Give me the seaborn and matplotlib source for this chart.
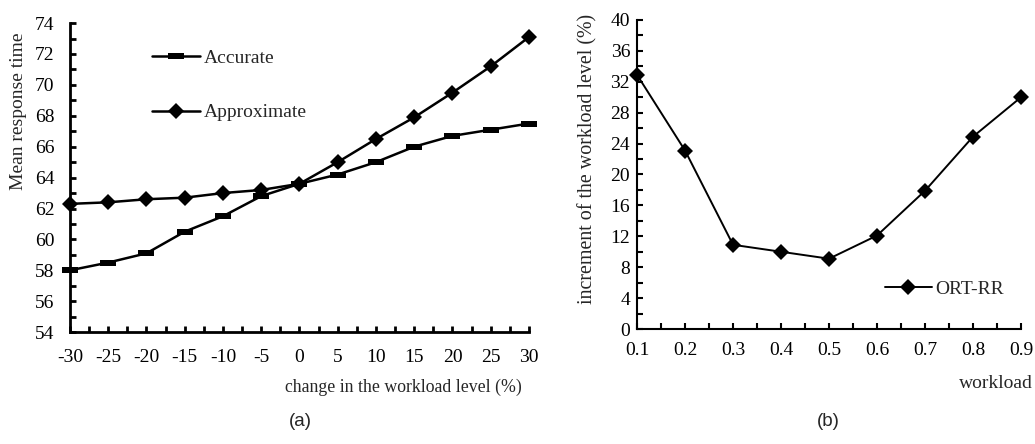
import numpy as np
import pandas as pd
import matplotlib
matplotlib.use("Agg")
import matplotlib.pyplot as plt
from matplotlib.path import Path
from matplotlib.ticker import MultipleLocator
import seaborn as sns

# ---- data ----
change = [-30, -25, -20, -15, -10, -5, 0, 5, 10, 15, 20, 25, 30]
accurate = [58.0, 58.5, 59.1, 60.5, 61.5, 62.8, 63.6, 64.2, 65.0, 66.0, 66.7, 67.1, 67.5]
approximate = [62.3, 62.4, 62.6, 62.7, 63.0, 63.2, 63.6, 65.0, 66.5, 67.9, 69.5, 71.2, 73.1]

workload = [0.1, 0.2, 0.3, 0.4, 0.5, 0.6, 0.7, 0.8, 0.9]
ort_rr = [32.9, 23.1, 10.9, 10.0, 9.1, 12.1, 17.9, 24.9, 30.0]

sns.set_style("ticks")
plt.rcParams['font.family'] = ['Liberation Serif', 'DejaVu Serif']
plt.rcParams['axes.unicode_minus'] = False

fig = plt.figure(figsize=(10.35, 4.44), dpi=100)
ax1 = fig.add_axes([0.0676, 0.252, 0.4435, 0.696])
ax2 = fig.add_axes([0.6155, 0.259, 0.371, 0.696])

rect = Path([(-1, -0.35), (1, -0.35), (1, 0.35), (-1, 0.35), (-1, -0.35)],
            [Path.MOVETO, Path.LINETO, Path.LINETO, Path.LINETO, Path.CLOSEPOLY])

df1 = pd.DataFrame({"change": change, "Accurate": accurate, "Approximate": approximate})
sns.lineplot(data=df1, x="change", y="Accurate", ax=ax1, color="black", lw=1.8,
             marker=rect, markersize=11, markeredgewidth=0, label="Accurate", clip_on=False)
sns.lineplot(data=df1, x="change", y="Approximate", ax=ax1, color="black", lw=1.8,
             marker="D", markersize=8.5, markeredgewidth=0, label="Approximate", clip_on=False)

ax1.set_xlim(-30, 30)
ax1.set_ylim(54, 74)
ax1.xaxis.set_major_locator(MultipleLocator(5))
ax1.xaxis.set_minor_locator(MultipleLocator(2.5))
ax1.yaxis.set_major_locator(MultipleLocator(2))
ax1.yaxis.set_minor_locator(MultipleLocator(1))
ax1.set_xlabel("")
ax1.set_ylabel("Mean response time", fontsize=14)
ax1.yaxis.set_label_coords(-0.093, 0.715)
ax1.text(0.985, -0.15, "change in the workload level (%)", transform=ax1.transAxes,
         ha="right", va="top", fontsize=12.8)
ax1.legend(loc="upper left", bbox_to_anchor=(0.14, 0.972), frameon=False,
           fontsize=14, handlelength=2.5, labelspacing=1.9, handletextpad=0.2)

df2 = pd.DataFrame({"workload": workload, "ORT-RR": ort_rr})
sns.lineplot(data=df2, x="workload", y="ORT-RR", ax=ax2, color="black", lw=1.4,
             marker="D", markersize=8, markeredgewidth=0, label="ORT-RR", clip_on=False)
ax2.set_xlim(0.1, 0.9)
ax2.set_ylim(0, 40)
ax2.xaxis.set_minor_locator(MultipleLocator(0.05))
ax2.yaxis.set_major_locator(MultipleLocator(4))
ax2.yaxis.set_minor_locator(MultipleLocator(2))
ax2.set_xticks(workload)
ax2.set_xticklabels([f"{w:.1f}" for w in workload])
ax2.set_xlabel("")
ax2.set_ylabel("increment of the workload level (%)", fontsize=14.4)
ax2.yaxis.set_label_coords(-0.104, 0.55)
ax2.text(1.03, -0.15, "workload", transform=ax2.transAxes, ha="right", va="top", fontsize=14)
ax2.legend(loc="center left", bbox_to_anchor=(0.6, 0.13), frameon=False,
           fontsize=14, handlelength=2.4, handletextpad=0.2)

for ax, lw, xpad, ypad in ((ax1, 2.0, 12, 11), (ax2, 1.5, 9, 5)):
    sns.despine(ax=ax)
    for s in ("left", "bottom"):
        ax.spines[s].set_linewidth(lw)
        ax.spines[s].set_color("black")
    ax.tick_params(which="both", direction="in", length=4.5, width=lw, colors="black",
                   labelsize=14)
    ax.tick_params(axis="x", which="both", pad=xpad)
    ax.tick_params(axis="y", which="both", pad=ypad)

fig.text(0.29, 0.05, "(a)", ha="center", va="center", fontsize=13.5, family="Liberation Sans")
fig.text(0.80, 0.05, "(b)", ha="center", va="center", fontsize=13.5, family="Liberation Sans")

fig.savefig("out.png", dpi=100)
